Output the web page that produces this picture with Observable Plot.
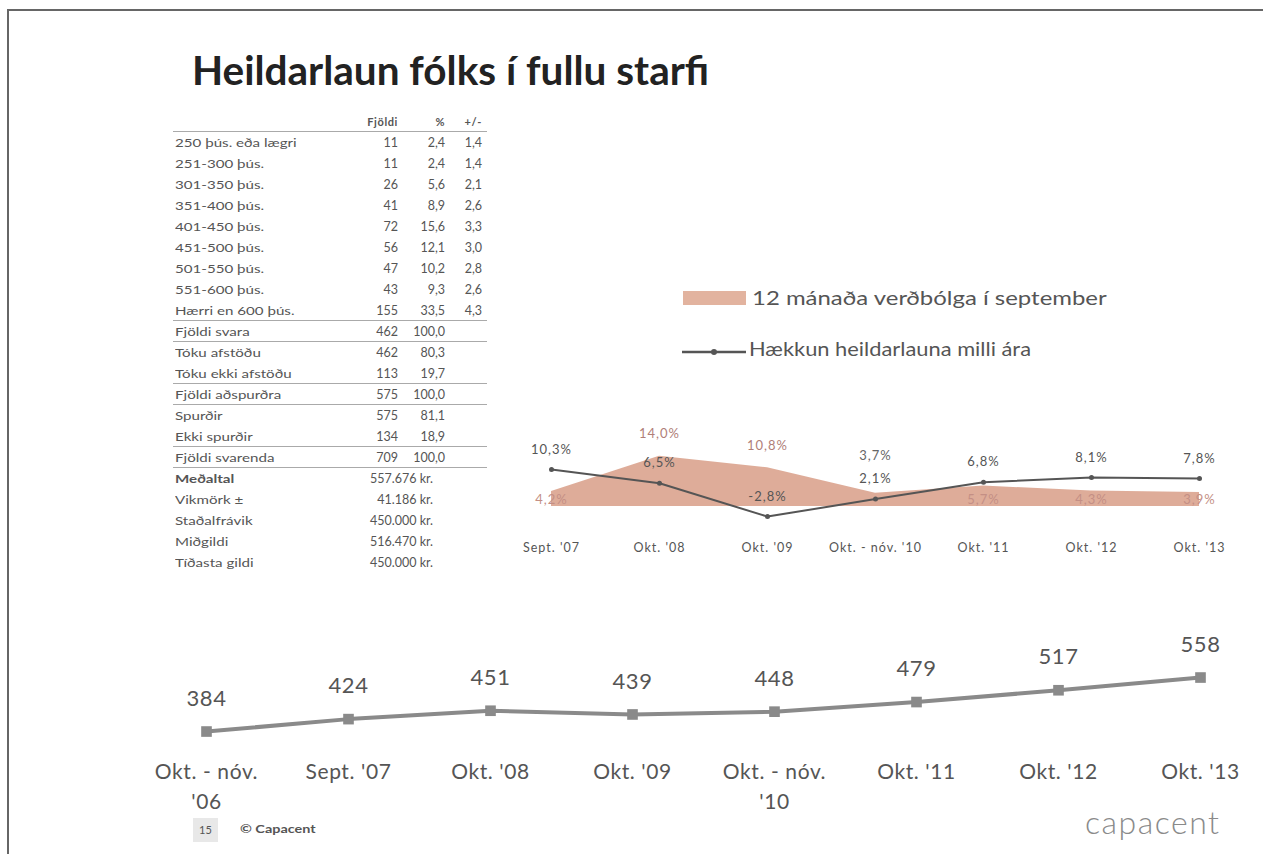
<!DOCTYPE html>
<html><head><meta charset="utf-8">
<script src="https://cdn.jsdelivr.net/npm/d3@7"></script>
<script src="https://cdn.jsdelivr.net/npm/@observablehq/plot@0.6"></script>
<style>
body{margin:0;background:#fff;font-family:Lato,"Open Sans",sans-serif;}
#page{position:relative;width:1263px;height:854px;overflow:hidden;background:#fff;}
.abs{position:absolute;white-space:nowrap;}
</style></head><body><div id="page"></div>
<script>
// ---------- data ----------
const title = "Heildarlaun fólks í fullu starfi";
const tableHeader = ["Fjöldi", "%", "+/-"];
const bandLabels = ["250 þús. eða lægri","251-300 þús.","301-350 þús.","351-400 þús.","401-450 þús.","451-500 þús.","501-550 þús.","551-600 þús.","Hærri en 600 þús."];
const bandCount = [11, 11, 26, 41, 72, 56, 47, 43, 155];
const bandPct = [2.4, 2.4, 5.6, 8.9, 15.6, 12.1, 10.2, 9.3, 33.5];
const bandPm = [1.4, 1.4, 2.1, 2.6, 3.3, 3.0, 2.8, 2.6, 4.3];
const totalLabels = ["Fjöldi svara","Tóku afstöðu","Tóku ekki afstöðu","Fjöldi aðspurðra","Spurðir","Ekki spurðir","Fjöldi svarenda"];
const totalCount = [462, 462, 113, 575, 575, 134, 709];
const totalPct = [100.0, 80.3, 19.7, 100.0, 81.1, 18.9, 100.0];
const statLabels = ["Meðaltal","Vikmörk ±","Staðalfrávik","Miðgildi","Tíðasta gildi"];
const statValues = [557676, 41186, 450000, 516470, 450000];

const legendLabels = ["12 mánaða verðbólga í september", "Hækkun heildarlauna milli ára"];
const inflPeriods = ["Sept. '07","Okt. '08","Okt. '09","Okt. - nóv. '10","Okt. '11","Okt. '12","Okt. '13"];
const inflation = [4.2, 14.0, 10.8, 3.7, 5.7, 4.3, 3.9];
const wageGrowth = [10.3, 6.5, -2.8, 2.1, 6.8, 8.1, 7.8];

const wagePeriods = ["Okt. - nóv.\n'06","Sept. '07","Okt. '08","Okt. '09","Okt. - nóv.\n'10","Okt. '11","Okt. '12","Okt. '13"];
const wageLevel = [384, 424, 451, 439, 448, 479, 517, 558];

const pageNo = "15";
const copyright = "© Capacent";
const logo = "capacent";

// ---------- helpers ----------
const page = document.getElementById("page");
function add(html, css) {
  const d = document.createElement("div");
  d.className = "abs";
  d.innerHTML = html;
  Object.assign(d.style, css);
  page.appendChild(d);
  return d;
}
const stretch = k => ({transform: `scaleX(${k})`, transformOrigin: "left center"});
const dec = v => v.toFixed(1).replace(".", ",");
const kr = v => d3.format(",")(v).replace(/,/g, ".") + " kr.";

// frame
add("", {left:"8px", top:"9px", width:"1260px", height:"0", borderTop:"2px solid #666"});
add("", {left:"7px", top:"9px", width:"0", height:"850px", borderLeft:"2px solid #666"});

// title
add(title, {left:"192px", top:"46px", fontSize:"40.5px", fontWeight:"700", color:"#222", lineHeight:"48px"});

// ---------- table ----------
const TX = 173, TW = 314, ROW = 21, T0 = 110.5;
const cText = {fontSize:"12px", color:"#555", lineHeight:ROW+"px", height:ROW+"px"};
function labelCell(i, label, bold) {
  const top = (T0 + ROW * (i + 1)) + "px";
  add(label, {...cText, left:(TX+2)+"px", top, fontWeight: bold ? "700" : "400", ...stretch(1.26)});
}
function numCell(i, txt, left, width) {
  const top = (T0 + ROW * (i + 1)) + "px";
  add(txt, {...cText, fontSize:"12.5px", left:left+"px", width:width+"px", textAlign:"right", top});
}
const hStyle = {...cText, top:T0+"px", fontWeight:"700", fontSize:"11px", textAlign:"right", letterSpacing:"0.6px"};
add(tableHeader[0], {...hStyle, left:"300px", width:"98px"});
add(tableHeader[1], {...hStyle, left:"400px", width:"45px"});
add(tableHeader[2], {...hStyle, left:"440px", width:"42px"});
bandLabels.forEach((l, i) => {
  labelCell(i, l, false);
  numCell(i, String(bandCount[i]), 300, 98);
  numCell(i, dec(bandPct[i]), 400, 45);
  numCell(i, dec(bandPm[i]), 440, 42);
});
totalLabels.forEach((l, j) => {
  const i = bandLabels.length + j;
  labelCell(i, l, false);
  numCell(i, String(totalCount[j]), 300, 98);
  numCell(i, dec(totalPct[j]), 400, 45);
});
statLabels.forEach((l, k) => {
  const i = bandLabels.length + totalLabels.length + k;
  labelCell(i, l, k === 0);
  numCell(i, kr(statValues[k]), 300, 133);
});
[-1, 8, 9, 11, 12, 14, 15].forEach(i => {
  add("", {left:TX+"px", top:(T0 + ROW * (i + 2) - 1) + "px", width:TW+"px", height:"0", borderTop:"1.5px solid #aaa"});
});

// ---------- legend ----------
add("", {left:"683px", top:"291px", width:"63px", height:"14px", background:"#e2b39f"});
add(legendLabels[0], {left:"752px", top:"285px", fontSize:"19px", color:"#555", lineHeight:"26px", ...stretch(1.26)});
add('<svg width="66" height="12"><line x1="0" x2="64" y1="6" y2="6" stroke="#555" stroke-width="2.5"/><circle cx="32" cy="6" r="3" fill="#555"/></svg>', {left:"682px", top:"342px"});
add(legendLabels[1], {left:"749px", top:"336px", fontSize:"19px", color:"#555", lineHeight:"26px", ...stretch(1.15)});

// ---------- middle chart ----------
const mid = inflPeriods.map((p, i) => ({p, infl: inflation[i], wage: wageGrowth[i]}));
const fmtP = v => dec(v) + "%";
const above = mid.filter(d => d.infl > d.wage);
const aboveFar = above.filter(d => d.infl - d.wage >= 3);
const aboveNear = above.filter(d => d.infl - d.wage < 3);
const inside = mid.filter(d => d.infl <= d.wage);
const midPlot = Plot.plot({
  width: 760, height: 180,
  marginLeft: 0, marginRight: 0, marginTop: 0, marginBottom: 40,
  x: {type: "point", domain: inflPeriods, range: [49, 701], padding: 0, label: null},
  y: {domain: [-5, 15], range: [124, 52.2], axis: null},
  style: {fontFamily: "Lato, 'Open Sans', sans-serif", color: "#555", background: "transparent", letterSpacing: "1px", overflow: "visible"},
  marks: [
    Plot.areaY(mid, {x: "p", y: "infl", fill: "#dca894", fillOpacity: 0.95}),
    Plot.line(mid, {x: "p", y: "wage", stroke: "#555", strokeWidth: 2}),
    Plot.dot(mid, {x: "p", y: "wage", r: 2.5, fill: "#555"}),
    Plot.text(mid, {x: "p", y: "wage", text: d => fmtP(d.wage), dy: -20, fontSize: 13, fill: "#555"}),
    Plot.text(aboveFar, {x: "p", y: "infl", text: d => fmtP(d.infl), dy: -22, fontSize: 13, fill: "#b07e78"}),
    Plot.text(aboveNear, {x: "p", y: "infl", text: d => fmtP(d.infl), dy: -37, fontSize: 13, fill: "#666"}),
    Plot.text(inside, {x: "p", y: () => 0, text: d => fmtP(d.infl), dy: -7, fontSize: 13, fill: "#c48f85"}),
    Plot.axisX({tickSize: 0, tickPadding: 3, fontSize: 12.5, label: null})
  ]
});
midPlot.querySelectorAll("g[aria-label='x-axis tick label'] text").forEach(t => t.style.letterSpacing = "1px");
add("", {left:"500px", top:"400px"}).appendChild(midPlot);

// ---------- bottom chart ----------
const bot = wagePeriods.map((p, i) => ({p, v: wageLevel[i]}));
const botPlot = Plot.plot({
  width: 1110, height: 200,
  marginLeft: 0, marginRight: 0, marginTop: 0, marginBottom: 62,
  x: {type: "point", domain: wagePeriods, range: [53, 1053], padding: 0, label: null},
  y: {domain: [0, 600], range: [230.2, 44], axis: null},
  style: {fontFamily: "Lato, 'Open Sans', sans-serif", color: "#555", background: "transparent", overflow: "visible"},
  marks: [
    Plot.line(bot, {x: "p", y: "v", stroke: "#8a8a8a", strokeWidth: 4}),
    Plot.dot(bot, {x: "p", y: "v", symbol: "square", r: 6, fill: "#8a8a8a"}),
    Plot.text(bot, {x: "p", y: "v", text: d => String(d.v), dy: -33, fontSize: 22, fill: "#555"}),
    Plot.axisX({tickSize: 0, tickPadding: 0, fontSize: 21, lineHeight: 1.4, label: null})
  ]
});
botPlot.querySelectorAll("text").forEach(t => t.style.letterSpacing = "0.6px");
add("", {left:"150px", top:"620px"}).appendChild(botPlot);

// ---------- footer ----------
add(pageNo, {left:"193px", top:"818px", width:"25px", height:"24px", background:"#e8e8e8", fontSize:"11px", color:"#555", textAlign:"center", lineHeight:"24px"});
add(copyright, {left:"240px", top:"821px", fontSize:"12px", fontWeight:"700", color:"#555", lineHeight:"16px", ...stretch(1.2)});
add(logo, {left:"1085px", top:"802px", fontSize:"32px", fontWeight:"300", color:"#8a8a8a", letterSpacing:"1.5px", lineHeight:"40px"});
</script>
</body></html>
